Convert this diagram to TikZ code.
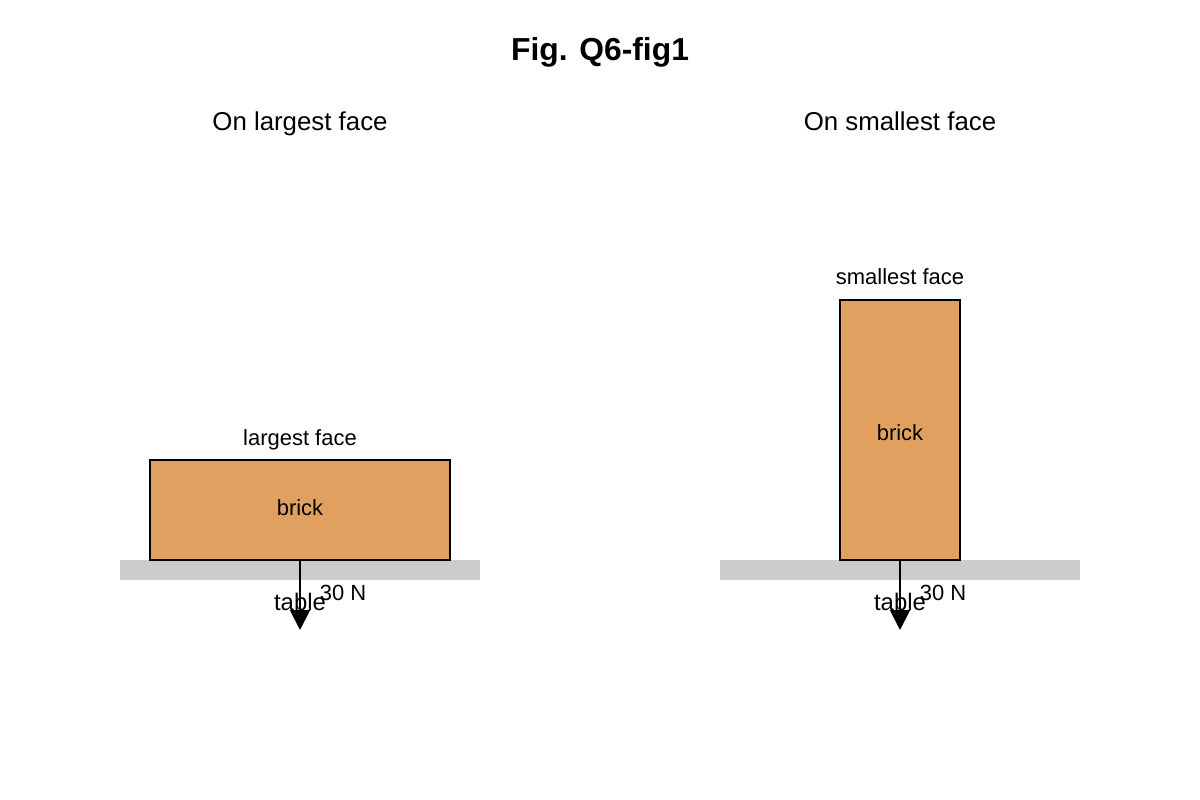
\documentclass[tikz,border=0pt]{standalone}
\usepackage{fontspec}
\setmainfont{Liberation Sans}
\usepackage{xcolor}
\usepackage{tikz}
\usetikzlibrary{arrows.meta}

\definecolor{brickcol}{HTML}{E0A060}
\definecolor{tablecol}{HTML}{CCCCCC}

\tikzset{
	brickbox/.style={draw=black, line width=1.1pt, fill=brickcol, inner sep=0pt},
	tablebar/.style={fill=tablecol, inner sep=0pt, minimum width=7.2cm, minimum height=0.4cm},
	force/.style={line width=1.1pt, -{Triangle[length=0.4cm,width=0.4cm]}},
	lbl/.style={anchor=base, inner sep=0pt}
}

\begin{document}
\begin{tikzpicture}[x=0.02cm, y=-0.02cm]
			\useasboundingbox (0,0) rectangle (1200,800);
			
			\draw (600,61) node[lbl, font=\fontsize{18.1}{20}\selectfont\bfseries] (title) {Fig. Q6-fig1};
			
			% left: on largest face
			\draw (300,131) node[lbl, font=\fontsize{14.7}{17}\selectfont] (headL) {On largest face};
			\draw (300,570) node[tablebar] (tableL) {};
			\draw (300,510) node[brickbox, minimum width=6cm, minimum height=2cm] (brickL) {};
			\draw (300,445) node[lbl, font=\fontsize{12.5}{15}\selectfont] (faceL) {largest face};
			\draw (300,515) node[lbl, font=\fontsize{12.5}{15}\selectfont] (textL) {brick};
			\coordinate (forceL) at (300,630);
			\draw[force] (brickL.south) -- (forceL);
			\draw (300,610) node[lbl, font=\fontsize{13.6}{16}\selectfont] (labL) {table};
			\draw (343,600) node[lbl, font=\fontsize{12.5}{15}\selectfont] (nL) {30 N};
			
			% right: on smallest face
			\draw (900,131) node[lbl, font=\fontsize{14.7}{17}\selectfont] (headR) {On smallest face};
			\draw (900,570) node[tablebar] (tableR) {};
			\draw (900,430) node[brickbox, minimum width=2.4cm, minimum height=5.2cm] (brickR) {};
			\draw (900,285) node[lbl, font=\fontsize{12.5}{15}\selectfont] (faceR) {smallest face};
			\draw (900,440) node[lbl, font=\fontsize{12.5}{15}\selectfont] (textR) {brick};
			\coordinate (forceR) at (900,630);
			\draw[force] (brickR.south) -- (forceR);
			\draw (900,610) node[lbl, font=\fontsize{13.6}{16}\selectfont] (labR) {table};
			\draw (943,600) node[lbl, font=\fontsize{12.5}{15}\selectfont] (nR) {30 N};
		\end{tikzpicture}
\end{document}
